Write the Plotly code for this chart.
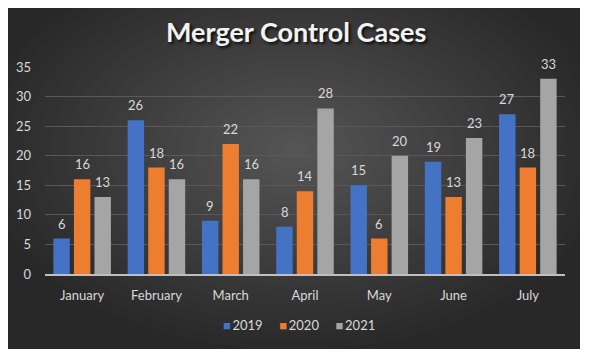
import plotly.graph_objects as go

months = ["January", "February", "March", "April", "May", "June", "July"]
years = ["2019", "2020", "2021"]
v2019 = [6, 26, 9, 8, 15, 19, 27]
v2020 = [16, 18, 22, 14, 6, 13, 18]
v2021 = [13, 16, 16, 28, 20, 23, 33]
colors = ["#4472C4", "#ED7D31", "#A5A5A5"]
y_ticks = [0, 5, 10, 15, 20, 25, 30, 35]

# the page body adds an 8px margin; the figure is laid out in page pixels minus that offset
OFF = 8
W, H = 590 - OFF, 361 - OFF
PL, PR, PT, PB = 45, 565, 67, 274          # plot area in page pixels
L, R, T, B = PL - OFF, W - (PR - OFF), PT - OFF, H - (PB - OFF)
pw, ph = W - L - R, H - T - B


def px_x(p):
    return (p - OFF - L) / pw


def px_y(p):
    return (H - B - (p - OFF)) / ph


FONT = "Lato, 'Open Sans', sans-serif"
TXT = "#d9d9d9"

fig = go.Figure()
series = [v2019, v2020, v2021]
for name, vals, col in zip(years, series, colors):
    fig.add_trace(go.Bar(x=months, y=vals, name=name, marker=dict(color=col, line=dict(width=0)),
                         showlegend=False))

# data labels
slot = 20.5
for i, vals in enumerate(series):
    for m, v in zip(months, vals):
        fig.add_annotation(x=m, y=v, text=str(v), showarrow=False, xshift=(i - 1) * slot,
                           yshift=15, font=dict(family=FONT, size=13, color=TXT))

# legend as text
leg = "\u00a0\u00a0\u00a0\u00a0\u00a0".join(
    f"<span style='color:{c}'>■</span>\u2009{y}" for y, c in zip(years, colors))
fig.add_annotation(xref="paper", yref="paper", x=px_x(299), y=px_y(325), xanchor="center",
                   yanchor="middle", text=leg, showarrow=False,
                   font=dict(family=FONT, size=13, color=TXT))

# title
fig.add_annotation(xref="paper", yref="paper", x=px_x(295.5), y=px_y(32), xanchor="center",
                   yanchor="middle", text="<b>Merger Control Cases</b>", showarrow=False,
                   font=dict(family=FONT, size=27, color="#f2f2f2",
                             shadow="2px 2px 3px rgba(0,0,0,0.8)"))

# background with radial-ish gradient
x0, x1 = px_x(8), px_x(580)
y0, y1 = px_y(349), px_y(0)
shapes = [dict(type="rect", xref="paper", yref="paper", x0=x0, x1=x1, y0=y0, y1=y1,
               fillcolor="#282828", line=dict(width=0), layer="below")]
cx, cy = px_x(295), px_y(150)
hw, hh = (x1 - x0) / 2 * 1.1, (y1 - y0) / 2 * 1.15
n = 22
for k in range(n):
    f = 1.0 - k / n
    shapes.append(dict(type="circle", xref="paper", yref="paper",
                       x0=cx - hw * f, x1=cx + hw * f, y0=cy - hh * f, y1=cy + hh * f,
                       fillcolor="rgba(255,255,255,0.01)", line=dict(width=0), layer="below"))
# white margins outside the chart rectangle
shapes += [
    dict(type="rect", xref="paper", yref="paper", x0=-1, x1=x0, y0=-1, y1=2, fillcolor="white", line=dict(width=0), layer="below"),
    dict(type="rect", xref="paper", yref="paper", x0=x1, x1=2, y0=-1, y1=2, fillcolor="white", line=dict(width=0), layer="below"),
    dict(type="rect", xref="paper", yref="paper", x0=-1, x1=2, y0=-1, y1=y0, fillcolor="white", line=dict(width=0), layer="below"),
]

fig.update_layout(
    width=W, height=H,
    margin=dict(l=L, r=R, t=T, b=B, autoexpand=False),
    paper_bgcolor="#282828", plot_bgcolor="rgba(0,0,0,0)",
    shapes=shapes,
    barmode="group", bargap=0.17, bargroupgap=0.2,
    font=dict(family=FONT, size=13, color=TXT),
    showlegend=False,
)
fig.update_yaxes(range=[0, 35], tickvals=y_ticks, showgrid=True, gridcolor="#595959", gridwidth=1,
                 zeroline=False, showline=False, ticks="", ticklabelstandoff=13, automargin=False,
                 tickfont=dict(family=FONT, size=13, color=TXT))
fig.update_xaxes(showline=True, linecolor="#bfbfbf", linewidth=2, ticks="", ticklabelstandoff=8,
                 automargin=False, tickfont=dict(family=FONT, size=13, color=TXT))

fig.write_html("out.html")
